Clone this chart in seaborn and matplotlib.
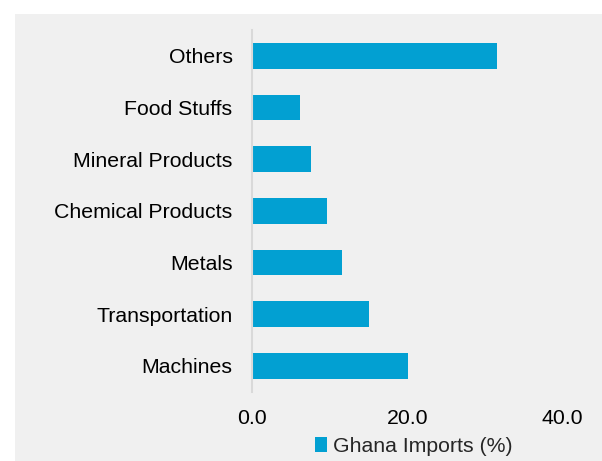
import matplotlib
matplotlib.use("Agg")
import matplotlib.pyplot as plt
from matplotlib.patches import Rectangle
import seaborn as sns
import pandas as pd

categories = ["Others", "Food Stuffs", "Mineral Products", "Chemical Products",
              "Metals", "Transportation", "Machines"]
imports_pct = [31.6, 6.2, 7.6, 9.7, 11.6, 15.0, 20.1]
x_ticks = [0, 20, 40]
x_tick_labels = ["0.0", "20.0", "40.0"]
series_name = "Ghana Imports (%)"

BG = "#f0f0f0"
BAR = "#02a0d2"
FS = 15.3

sns.set_theme(style="white")
plt.rcParams["font.family"] = ["Liberation Sans", "DejaVu Sans"]

df = pd.DataFrame({"category": categories, "value": imports_pct})

fig = plt.figure(figsize=(6.02, 4.61), dpi=100, facecolor="white")
# grey panel behind the chart, leaving a thin white strip on top and left
fig.patches.append(Rectangle((15 / 602, 0), 1 - 15 / 602, 1 - 14 / 461,
                             transform=fig.transFigure, facecolor=BG,
                             edgecolor="none", zorder=-10))

ax = fig.add_axes([252 / 602, 1 - 391.7 / 461, (562.7 - 252) / 602, (391.7 - 30) / 461])
ax.set_facecolor(BG)

sns.barplot(data=df, x="value", y="category", orient="h", color=BAR,
            width=0.5, saturation=1, linewidth=0, label=series_name, ax=ax)

ax.set_xlim(0, 40)
ax.set_ylim(6.5, -0.5)
ax.set_xticks(x_ticks)
ax.set_xticklabels(x_tick_labels)
ax.set_xlabel("")
ax.set_ylabel("")
ax.grid(False)
ax.tick_params(axis="both", length=0, labelsize=FS, colors="#000000")
ax.tick_params(axis="y", pad=14)
ax.tick_params(axis="x", pad=12.5)

for side in ["top", "right", "bottom"]:
    ax.spines[side].set_visible(False)
ax.spines["left"].set_color("#d9d9d9")
ax.spines["left"].set_linewidth(1.5)

leg = fig.legend(*ax.get_legend_handles_labels(), loc="center",
                 bbox_to_anchor=(414 / 602, 1 - 446.5 / 461), frameon=False,
                 fontsize=FS, handlelength=0.55, handleheight=0.7,
                 handletextpad=0.3, borderpad=0)
if ax.get_legend() is not None:
    ax.get_legend().remove()

fig.savefig("out.png", dpi=100, facecolor="white")
